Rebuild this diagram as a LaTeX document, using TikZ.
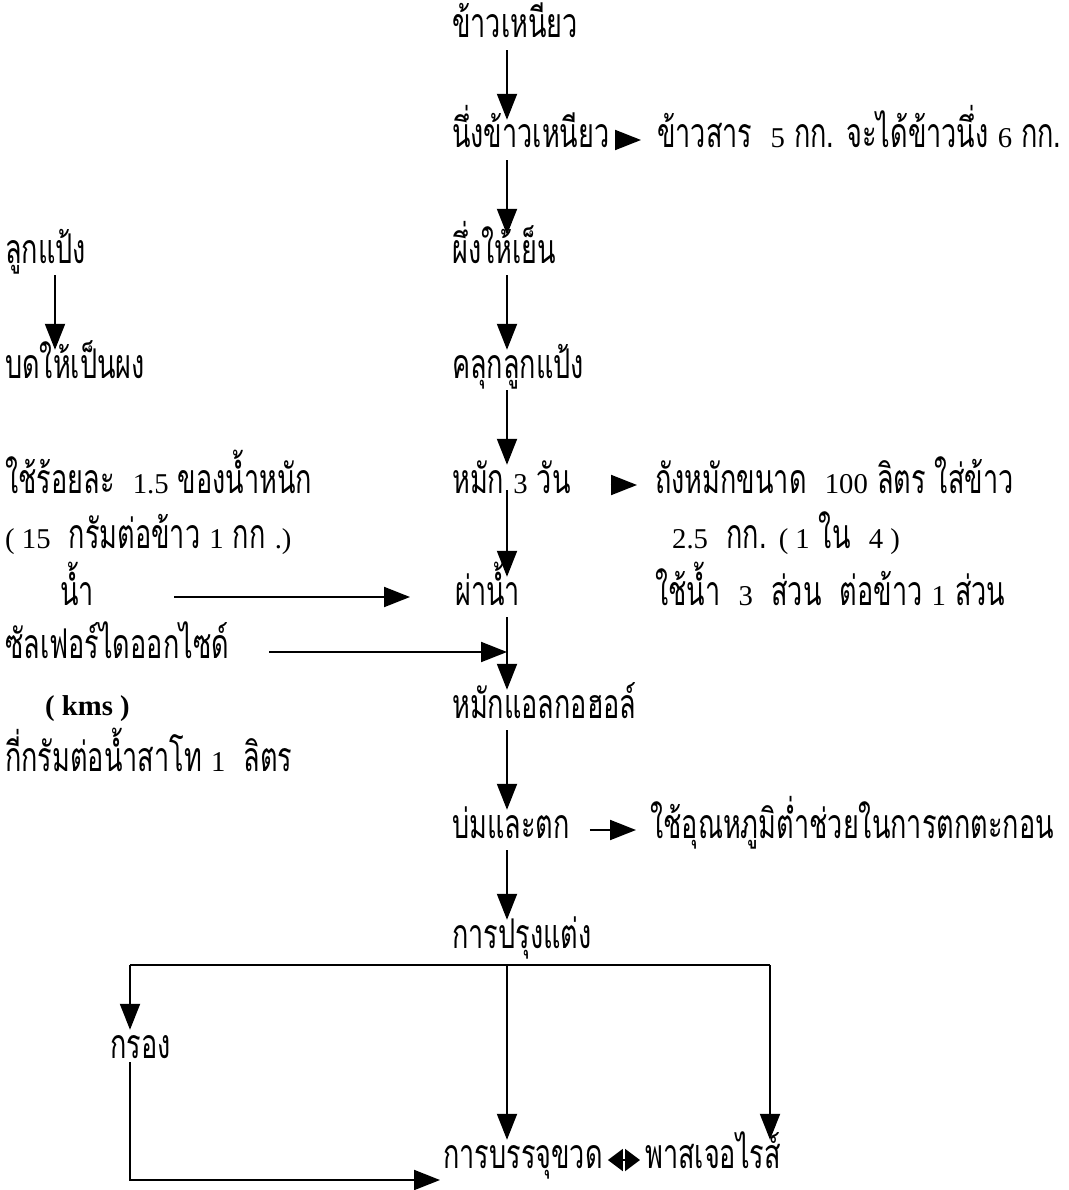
\documentclass[tikz,border=0pt]{standalone}
\usepackage{fontspec}
\setmainfont[Script=Thai,FakeStretch=0.66]{Loma}
\newfontfamily\latfont[Scale=0.7]{Liberation Serif}
\usepackage{tikz}
\usetikzlibrary{arrows.meta,positioning,calc}

\newcommand\lat[1]{{\latfont #1}}

\begin{document}
\begin{tikzpicture}[
    x=1pt, y=-1pt,
    every node/.style={font=\fontsize{41}{45}\selectfont},
    lbl/.style={anchor=west, inner xsep=0pt, inner ysep=10pt, text height=18pt, text depth=2pt},
    flow/.style={-{Triangle[length=26pt,width=20pt]}, line width=2pt},
    twoway/.style={{Triangle[length=15pt,width=22pt]}-{Triangle[length=15pt,width=22pt]}, line width=2pt}
  ]
    \useasboundingbox (0,0) rectangle (1068,1190);
    \coordinate (spine) at (507,0);

    % main column
    \node[lbl] (rice) at (452,30) {ข้าวเหนียว};
    \node[lbl] (steam) at (452,140) {นึ่งข้าวเหนียว};
    \node[lbl] (cool) at (452,255) {ผึ่งให้เย็น};
    \node[lbl] (mix) at (452,370) {คลุกลูกแป้ง};
    \node[lbl] (ferment) at (452,485) {หมัก \lat{3} วัน};
    \node[lbl] (press) at (455,597) {ผ่าน้ำ};
    \node[lbl] (alcohol) at (452,710) {หมักแอลกอฮอล์};
    \node[lbl] (age) at (452,830) {บ่มและตก};
    \node[lbl] (flavour) at (452,940) {การปรุงแต่ง};
    \node[lbl] (filter) at (110,1050) {กรอง};
    \node[lbl] (bottle) at (443,1160) {การบรรจุขวด};
    \node[lbl] (pasteur) at (645,1160) {พาสเจอไรส์};

    % notes on the right
    \node[lbl] (steamnote) at (657,140) {ข้าวสาร\ \ \lat{5} กก. จะได้ข้าวนึ่ง \lat{6} กก.};
    \node[lbl] (tank1) at (655,485) {ถังหมักขนาด\ \ \lat{100} ลิตร ใส่ข้าว};
    \node[lbl] (tank2) at (672,540) {\lat{2.5}\ \ กก. \lat{( 1} ใน\ \ \lat{4 )}};
    \node[lbl] (tank3) at (655,597) {ใช้น้ำ\ \ \lat{3}\ \ ส่วน\ \ ต่อข้าว \lat{1} ส่วน};
    \node[lbl] (agenote) at (650,830) {ใช้อุณหภูมิต่ำช่วยในการตกตะกอน};

    % inputs on the left
    \node[lbl] (starter) at (5,255) {ลูกแป้ง};
    \node[lbl] (powder) at (5,370) {บดให้เป็นผง};
    \node[lbl] (dose1) at (5,485) {ใช้ร้อยละ\ \ \lat{1.5} ของน้ำหนัก};
    \node[lbl] (dose2) at (5,540) {\lat{( 15}\ \ กรัมต่อข้าว \lat{1} กก \lat{.)}};
    \node[lbl] (water) at (60,597) {น้ำ};
    \node[lbl] (so2) at (5,650) {ซัลเฟอร์ไดออกไซด์};
    \node[lbl] (kms) at (45,707) {{\latfont\bfseries ( kms )}};
    \node[lbl] (dose3) at (5,763) {กี่กรัมต่อน้ำสาโท \lat{1}\ \ ลิตร};

    \draw[flow] (rice.south -| spine) -- (steam.north -| spine);
    \draw[flow] (steam.south -| spine) -- (cool.north -| spine);
    \draw[flow] (cool.south -| spine) -- (mix.north -| spine);
    \draw[flow] (mix.south -| spine) -- (ferment.north -| spine);
    \draw[flow] ([yshift=-5pt]ferment.center -| spine) -- (press.north -| spine);
    \draw[flow] (press.south -| spine) -- (alcohol.north -| spine);
    \draw[flow] (alcohol.south -| spine) -- (age.north -| spine);
    \draw[flow] (age.south -| spine) -- (flavour.north -| spine);

    \draw[flow, shorten <=22pt, shorten >=16pt] (steam.east) -- (steamnote.west);
    \draw[flow, shorten <=40pt, shorten >=18pt] (ferment.east) -- (tank1.west);
    \draw[flow, shorten <=20pt, shorten >=14pt] (age.east) -- (agenote.west);

    \draw[flow] (starter.south -| 55,0) -- (powder.north -| 55,0);
    \draw[flow, shorten <=80pt, shorten >=45pt] (water.east) -- (press.west);
    \draw[flow, shorten <=40pt] ([yshift=-2pt]so2.east) -- ([yshift=-2pt]so2.east -| spine);

    % branches after flavouring
    \coordinate (split) at ([yshift=-5pt]flavour.south -| spine);
    \coordinate (lbranch) at (130,965);
    \coordinate (rbranch) at (770,965);
    \draw[line width=2pt] (lbranch) -- (rbranch);
    \draw[flow] (lbranch) -- (filter.north -| lbranch);
    \draw[flow] (split) -- (bottle.north -| split);
    \draw[flow] (rbranch) -- (pasteur.north -| rbranch);
    \draw[flow, shorten >=3pt] ([yshift=8pt]filter.south -| lbranch) |- ([yshift=-20pt]bottle.west);
    \draw[twoway, shorten <=5pt, shorten >=5pt] (bottle.east) -- (pasteur.west);
\end{tikzpicture}
\end{document}
